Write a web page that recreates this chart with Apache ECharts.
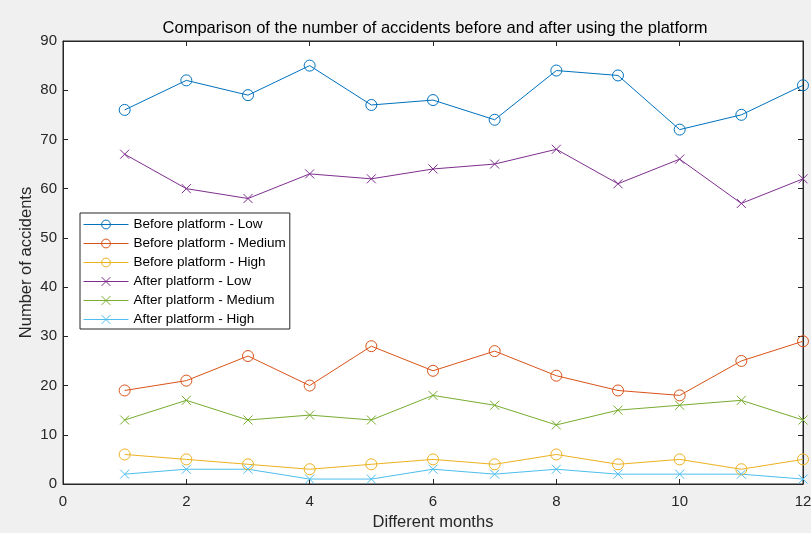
<!DOCTYPE html>
<html><head><meta charset="utf-8">
<script src="https://cdn.jsdelivr.net/npm/echarts@6/dist/echarts.min.js"></script>
<style>html,body{margin:0;padding:0;background:#f0f0f0;}#c{width:811px;height:533px;}</style>
</head><body><div id="c"></div>
<script>
const months = [1,2,3,4,5,6,7,8,9,10,11,12];
const seriesNames = ['Before platform - Low','Before platform - Medium','Before platform - High','After platform - Low','After platform - Medium','After platform - High'];
const beforeLow = [76,82,79,85,77,78,74,84,83,72,75,81];
const beforeMedium = [19,21,26,20,28,23,27,22,19,18,25,29];
const beforeHigh = [6,5,4,3,4,5,4,6,4,5,3,5];
const afterLow = [67,60,58,63,62,64,65,68,61,66,57,62];
const afterMedium = [13,17,13,14,13,18,16,12,15,16,17,13];
const afterHigh = [2,3,3,1,1,3,2,3,2,2,2,1];
const xTicks = [0,2,4,6,8,10,12];
const yTicks = [0,10,20,30,40,50,60,70,80,90];

const colors = ['#0072BD','#D95319','#EDB120','#7E2F8E','#77AC30','#4DBEEE'];
const allData = [beforeLow,beforeMedium,beforeHigh,afterLow,afterMedium,afterHigh];
const crossPath = 'path://M0,0L10,10M10,0L0,10';
const font = 'Liberation Sans, Arial, sans-serif';
const axisColor = '#262626';

const series = allData.map((d,i)=>({
  name: seriesNames[i],
  type: 'line',
  xAxisIndex: 0, yAxisIndex: 0,
  data: d.map((v,j)=>[months[j], v]),
  symbol: i<3 ? 'circle' : crossPath,
  symbolSize: i<3 ? 11 : 9,
  showAllSymbol: true,
  lineStyle: {color: colors[i], width: 1},
  itemStyle: {color: i<3 ? 'rgba(0,0,0,0)' : colors[i], borderColor: colors[i], borderWidth: 1},
  emphasis: {disabled: true},
  animation: false
}));

const noTick = {show: false};
const tick = {show: true, inside: false, length: 5, lineStyle: {color: axisColor}};
function xTickAxis(pos){
  return {type: 'value', min: 0, max: 12, interval: 2, position: pos, offset: -5,
    axisLine: {show: false, onZero: false}, axisTick: tick, axisLabel: {show: false}, splitLine: {show: false}};
}
function yTickAxis(pos){
  return {type: 'value', min: 0, max: 90, interval: 10, position: pos, offset: -5,
    axisLine: {show: false, onZero: false}, axisTick: tick, axisLabel: {show: false}, splitLine: {show: false}};
}

const chart = echarts.init(document.getElementById('c'));
chart.setOption({
  backgroundColor: '#f0f0f0',
  animation: false,
  title: {
    text: 'Comparison of the number of accidents before and after using the platform',
    left: 430, textAlign: 'center', top: 15,
    textStyle: {fontFamily: font, fontSize: 16.5, fontWeight: 'normal', color: '#000'}
  },
  grid: {left: 63, right: 8, top: 41, bottom: 49, show: true, backgroundColor: '#fff',
    borderColor: axisColor, borderWidth: 1, containLabel: false, outerBoundsMode: 'none'},
  legend: {
    orient: 'vertical', left: 80, top: 213,
    data: seriesNames,
    itemWidth: 45, itemHeight: 11, itemGap: 4,
    backgroundColor: '#fff', borderColor: axisColor, borderWidth: 1,
    padding: [4, 4, 2, 3],
    lineStyle: {width: 1},
    itemStyle: {borderWidth: 1},
    textStyle: {fontFamily: font, fontSize: 13.5, color: '#000', lineHeight: 15}
  },
  xAxis: [{
    type: 'value', min: 0, max: 12, interval: 2, position: 'bottom',
    name: 'Different months', nameLocation: 'middle', nameGap: 30, nameMoveOverlap: false,
    nameTextStyle: {fontFamily: font, fontSize: 16.5, color: axisColor},
    axisLine: {onZero: false, lineStyle: {color: axisColor}},
    axisTick: noTick,
    axisLabel: {fontFamily: font, fontSize: 15, color: axisColor, margin: 10,
      formatter: v => xTicks.includes(v) ? String(v) : ''},
    splitLine: {show: false}
  },{
    type: 'value', min: 0, max: 12, interval: 2, position: 'top',
    axisLine: {show: true, onZero: false, lineStyle: {color: axisColor}},
    axisTick: noTick, axisLabel: {show: false}, splitLine: {show: false}
  }, xTickAxis('bottom'), xTickAxis('top')],
  yAxis: [{
    type: 'value', min: 0, max: 90, interval: 10, position: 'left',
    name: 'Number of accidents', nameLocation: 'middle', nameGap: 28, nameMoveOverlap: false,
    nameTextStyle: {fontFamily: font, fontSize: 16.5, color: axisColor},
    axisLine: {show: true, onZero: false, lineStyle: {color: axisColor}},
    axisTick: noTick,
    axisLabel: {fontFamily: font, fontSize: 15, color: axisColor, margin: 6,
      formatter: v => yTicks.includes(v) ? String(v) : ''},
    splitLine: {show: false}
  },{
    type: 'value', min: 0, max: 90, interval: 10, position: 'right',
    axisLine: {show: true, onZero: false, lineStyle: {color: axisColor}},
    axisTick: noTick, axisLabel: {show: false}, splitLine: {show: false}
  }, yTickAxis('left'), yTickAxis('right')],
  series: series
});
</script></body></html>
